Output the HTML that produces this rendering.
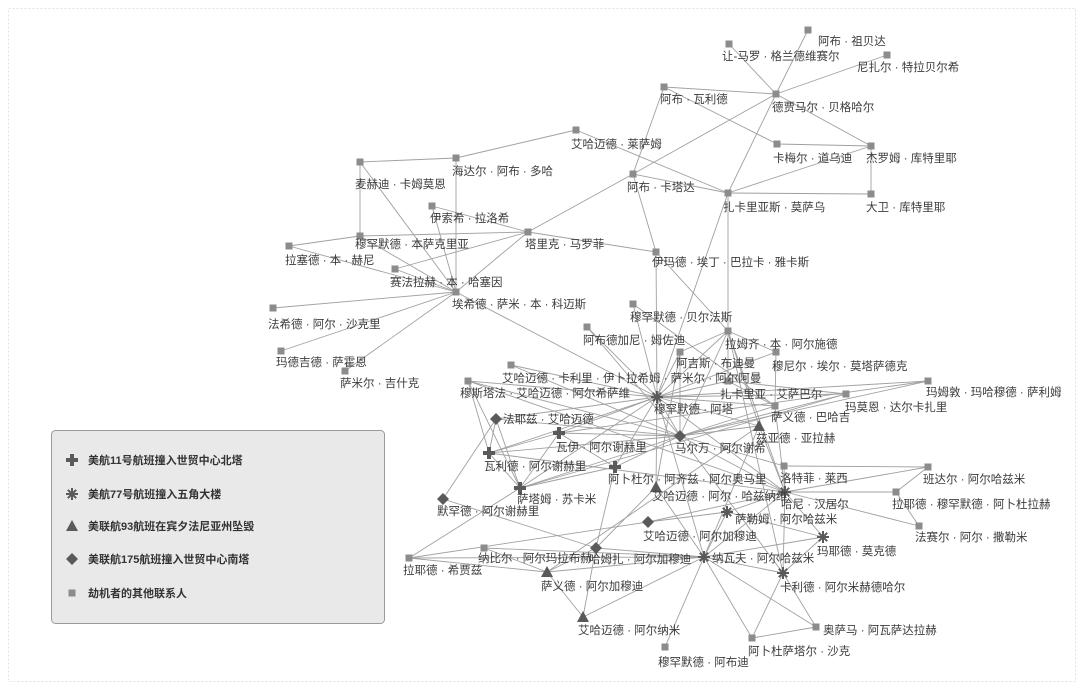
<!DOCTYPE html>
<html><head><meta charset="utf-8"><style>
html,body{margin:0;padding:0;background:#fff;}
svg{display:block;font-family:"Liberation Sans","Noto Sans CJK SC",sans-serif;}
.l line{stroke:#a0a0a0;stroke-width:0.9;}
.t text{font-size:11.5px;fill:#3c3c3c;}
.lg text{font-size:11px;fill:#333;font-weight:bold;}
</style></head><body>
<svg width="1084" height="690" viewBox="0 0 1084 690" xmlns="http://www.w3.org/2000/svg">
<defs>
<rect id="sq" x="-3.5" y="-3.5" width="7" height="7" fill="#8c8c8c"/>
<path id="cr" d="M-2,-6H2V-2H6V2H2V6H-2V2H-6V-2H-2Z" fill="#5a5a5a"/>
<g id="st" stroke="#5a5a5a" stroke-width="2"><line x1="-6" y1="0" x2="6" y2="0"/><line x1="0" y1="-6" x2="0" y2="6"/><line x1="-4.2" y1="-4.2" x2="4.2" y2="4.2"/><line x1="-4.2" y1="4.2" x2="4.2" y2="-4.2"/></g>
<polygon id="tr" points="0,-6 6,5 -6,5" fill="#5a5a5a"/>
<polygon id="di" points="0,-6 6,0 0,6 -6,0" fill="#5a5a5a"/>
</defs>
<rect x="8.5" y="8.5" width="1067" height="673" fill="none" stroke="#e2e2e2" stroke-width="1" stroke-dasharray="2,2"/>
<g class="l">
<line x1="808" y1="30" x2="776" y2="94"/><line x1="729" y1="44" x2="776" y2="94"/><line x1="887" y1="55" x2="776" y2="94"/>
<line x1="664" y1="87" x2="776" y2="94"/><line x1="664" y1="87" x2="777" y2="144"/><line x1="664" y1="87" x2="633" y2="174"/>
<line x1="776" y1="94" x2="871" y2="146"/><line x1="776" y1="94" x2="633" y2="174"/><line x1="776" y1="94" x2="728" y2="193"/>
<line x1="777" y1="144" x2="871" y2="146"/><line x1="871" y1="146" x2="728" y2="193"/><line x1="871" y1="146" x2="871" y2="194"/>
<line x1="728" y1="193" x2="871" y2="194"/><line x1="576" y1="130" x2="456" y2="158"/><line x1="576" y1="130" x2="728" y2="193"/>
<line x1="633" y1="174" x2="728" y2="193"/><line x1="633" y1="174" x2="528" y2="232"/><line x1="633" y1="174" x2="656" y2="252"/>
<line x1="456" y1="158" x2="360" y2="162"/><line x1="456" y1="158" x2="456" y2="292"/><line x1="360" y1="162" x2="360" y2="236"/>
<line x1="360" y1="162" x2="456" y2="292"/><line x1="432" y1="206" x2="528" y2="232"/><line x1="432" y1="206" x2="456" y2="292"/>
<line x1="360" y1="236" x2="528" y2="232"/><line x1="360" y1="236" x2="289" y2="246"/><line x1="289" y1="246" x2="456" y2="292"/>
<line x1="395" y1="269" x2="528" y2="232"/><line x1="395" y1="269" x2="456" y2="292"/><line x1="360" y1="236" x2="456" y2="292"/>
<line x1="528" y1="232" x2="656" y2="252"/><line x1="528" y1="232" x2="456" y2="292"/><line x1="456" y1="292" x2="273" y2="308"/>
<line x1="456" y1="292" x2="281" y2="351"/><line x1="456" y1="292" x2="345" y2="371"/><line x1="456" y1="292" x2="657" y2="397"/>
<line x1="656" y1="252" x2="657" y2="397"/><line x1="656" y1="252" x2="728" y2="331"/><line x1="728" y1="193" x2="728" y2="381"/>
<line x1="728" y1="193" x2="657" y2="397"/><line x1="633" y1="304" x2="657" y2="397"/><line x1="633" y1="304" x2="775" y2="406"/>
<line x1="657" y1="397" x2="587" y2="327"/><line x1="657" y1="397" x2="728" y2="331"/><line x1="657" y1="397" x2="680" y2="352"/>
<line x1="657" y1="397" x2="776" y2="352"/><line x1="657" y1="397" x2="511" y2="365"/><line x1="657" y1="397" x2="468" y2="381"/>
<line x1="657" y1="397" x2="728" y2="381"/><line x1="657" y1="397" x2="846" y2="394"/><line x1="657" y1="397" x2="775" y2="406"/>
<line x1="657" y1="397" x2="496" y2="419"/><line x1="657" y1="397" x2="559" y2="433"/><line x1="657" y1="397" x2="680" y2="436"/>
<line x1="657" y1="397" x2="489" y2="453"/><line x1="657" y1="397" x2="615" y2="467"/><line x1="657" y1="397" x2="520" y2="488"/>
<line x1="657" y1="397" x2="759" y2="426"/><line x1="657" y1="397" x2="785" y2="492"/><line x1="657" y1="397" x2="704" y2="557"/>
<line x1="657" y1="397" x2="928" y2="381"/><line x1="657" y1="397" x2="656" y2="487"/>
<line x1="680" y1="436" x2="468" y2="381"/><line x1="680" y1="436" x2="496" y2="419"/><line x1="680" y1="436" x2="559" y2="433"/>
<line x1="680" y1="436" x2="520" y2="488"/><line x1="680" y1="436" x2="728" y2="331"/><line x1="680" y1="436" x2="846" y2="394"/>
<line x1="680" y1="436" x2="775" y2="406"/><line x1="680" y1="436" x2="928" y2="381"/><line x1="680" y1="436" x2="759" y2="426"/>
<line x1="680" y1="436" x2="785" y2="492"/><line x1="680" y1="436" x2="784" y2="466"/><line x1="680" y1="436" x2="783" y2="573"/>
<line x1="680" y1="436" x2="615" y2="467"/><line x1="680" y1="436" x2="680" y2="352"/><line x1="680" y1="436" x2="489" y2="453"/>
<line x1="785" y1="492" x2="784" y2="466"/><line x1="785" y1="492" x2="928" y2="467"/><line x1="785" y1="492" x2="896" y2="492"/>
<line x1="785" y1="492" x2="919" y2="526"/><line x1="785" y1="492" x2="727" y2="512"/><line x1="785" y1="492" x2="823" y2="537"/>
<line x1="785" y1="492" x2="704" y2="557"/><line x1="785" y1="492" x2="759" y2="426"/><line x1="785" y1="492" x2="468" y2="381"/>
<line x1="785" y1="492" x2="783" y2="573"/><line x1="785" y1="492" x2="648" y2="522"/><line x1="785" y1="492" x2="728" y2="331"/>
<line x1="785" y1="492" x2="775" y2="406"/>
<line x1="704" y1="557" x2="727" y2="512"/><line x1="704" y1="557" x2="783" y2="573"/><line x1="704" y1="557" x2="823" y2="537"/>
<line x1="704" y1="557" x2="596" y2="548"/><line x1="704" y1="557" x2="547" y2="572"/><line x1="704" y1="557" x2="484" y2="548"/>
<line x1="704" y1="557" x2="583" y2="617"/><line x1="704" y1="557" x2="665" y2="647"/><line x1="704" y1="557" x2="752" y2="638"/>
<line x1="704" y1="557" x2="816" y2="627"/><line x1="704" y1="557" x2="656" y2="487"/><line x1="704" y1="557" x2="409" y2="558"/>
<line x1="928" y1="467" x2="896" y2="492"/><line x1="896" y1="492" x2="919" y2="526"/><line x1="783" y1="573" x2="816" y2="627"/>
<line x1="783" y1="573" x2="752" y2="638"/><line x1="816" y1="627" x2="752" y2="638"/><line x1="547" y1="572" x2="583" y2="617"/>
<line x1="547" y1="572" x2="409" y2="558"/><line x1="484" y1="548" x2="547" y2="572"/><line x1="596" y1="548" x2="547" y2="572"/>
<line x1="443" y1="499" x2="496" y2="419"/><line x1="443" y1="499" x2="596" y2="548"/><line x1="409" y1="558" x2="520" y2="488"/>
<line x1="409" y1="558" x2="648" y2="522"/><line x1="583" y1="617" x2="596" y2="548"/><line x1="656" y1="487" x2="596" y2="548"/>
<line x1="559" y1="433" x2="615" y2="467"/><line x1="489" y1="453" x2="496" y2="419"/><line x1="489" y1="453" x2="559" y2="433"/>
<line x1="520" y1="488" x2="496" y2="419"/><line x1="520" y1="488" x2="559" y2="433"/><line x1="520" y1="488" x2="489" y2="453"/>
<line x1="468" y1="381" x2="489" y2="453"/><line x1="468" y1="381" x2="520" y2="488"/><line x1="520" y1="488" x2="615" y2="467"/>
<line x1="615" y1="467" x2="596" y2="548"/><line x1="727" y1="512" x2="648" y2="522"/><line x1="727" y1="512" x2="823" y2="537"/>
<line x1="759" y1="426" x2="547" y2="572"/><line x1="759" y1="426" x2="704" y2="557"/><line x1="728" y1="331" x2="759" y2="426"/>
<line x1="728" y1="331" x2="680" y2="352"/><line x1="728" y1="331" x2="776" y2="352"/><line x1="728" y1="331" x2="783" y2="573"/>
<line x1="776" y1="352" x2="775" y2="406"/><line x1="728" y1="381" x2="775" y2="406"/><line x1="846" y1="394" x2="728" y2="381"/>
<line x1="846" y1="394" x2="520" y2="488"/><line x1="928" y1="381" x2="559" y2="433"/><line x1="784" y1="466" x2="928" y2="467"/>
<line x1="823" y1="537" x2="783" y2="573"/><line x1="680" y1="352" x2="656" y2="487"/><line x1="489" y1="453" x2="785" y2="492"/>
<line x1="511" y1="365" x2="680" y2="436"/><line x1="587" y1="327" x2="680" y2="436"/>
</g>
<g>
<use href="#sq" x="808" y="30"/><use href="#sq" x="729" y="44"/><use href="#sq" x="887" y="55"/><use href="#sq" x="664" y="87"/>
<use href="#sq" x="776" y="94"/><use href="#sq" x="576" y="130"/><use href="#sq" x="777" y="144"/><use href="#sq" x="871" y="146"/>
<use href="#sq" x="456" y="158"/><use href="#sq" x="360" y="162"/><use href="#sq" x="633" y="174"/><use href="#sq" x="728" y="193"/>
<use href="#sq" x="871" y="194"/><use href="#sq" x="432" y="206"/><use href="#sq" x="528" y="232"/><use href="#sq" x="360" y="236"/>
<use href="#sq" x="289" y="246"/><use href="#sq" x="656" y="252"/><use href="#sq" x="395" y="269"/><use href="#sq" x="456" y="292"/>
<use href="#sq" x="273" y="308"/><use href="#sq" x="281" y="351"/><use href="#sq" x="345" y="371"/><use href="#sq" x="633" y="304"/>
<use href="#sq" x="587" y="327"/><use href="#sq" x="728" y="331"/><use href="#sq" x="680" y="352"/><use href="#sq" x="776" y="352"/>
<use href="#sq" x="511" y="365"/><use href="#sq" x="468" y="381"/><use href="#sq" x="728" y="381"/><use href="#sq" x="928" y="381"/>
<use href="#sq" x="846" y="394"/><use href="#sq" x="775" y="406"/><use href="#sq" x="784" y="466"/><use href="#sq" x="928" y="467"/>
<use href="#sq" x="896" y="492"/><use href="#sq" x="919" y="526"/><use href="#sq" x="484" y="548"/><use href="#sq" x="409" y="558"/>
<use href="#sq" x="816" y="627"/><use href="#sq" x="752" y="638"/><use href="#sq" x="665" y="647"/>
<use href="#st" x="657" y="397"/><use href="#st" x="785" y="492"/><use href="#st" x="727" y="512"/><use href="#st" x="823" y="537"/>
<use href="#st" x="704" y="557"/><use href="#st" x="783" y="573"/>
<use href="#di" x="680" y="436"/><use href="#di" x="496" y="419"/><use href="#di" x="443" y="499"/><use href="#di" x="648" y="522"/><use href="#di" x="596" y="548"/>
<use href="#cr" x="559" y="433"/><use href="#cr" x="489" y="453"/><use href="#cr" x="615" y="467"/><use href="#cr" x="520" y="488"/>
<use href="#tr" x="759" y="426"/><use href="#tr" x="656" y="487"/><use href="#tr" x="547" y="572"/><use href="#tr" x="583" y="617"/>
</g>
<g class="t">
<text x="818" y="45">阿布 · 祖贝达</text>
<text x="722" y="60">让-马罗 · 格兰德维赛尔</text>
<text x="857" y="71">尼扎尔 · 特拉贝尔希</text>
<text x="660" y="103">阿布 · 瓦利德</text>
<text x="772" y="111">德贾马尔 · 贝格哈尔</text>
<text x="571" y="148">艾哈迈德 · 莱萨姆</text>
<text x="773" y="162">卡梅尔 · 道乌迪</text>
<text x="866" y="162">杰罗姆 · 库特里耶</text>
<text x="452" y="175">海达尔 · 阿布 · 多哈</text>
<text x="355" y="188">麦赫迪 · 卡姆莫恩</text>
<text x="627" y="191">阿布 · 卡塔达</text>
<text x="723" y="211">扎卡里亚斯 · 莫萨乌</text>
<text x="866" y="211">大卫 · 库特里耶</text>
<text x="430" y="222">伊索希 · 拉洛希</text>
<text x="525" y="248">塔里克 · 马罗菲</text>
<text x="355" y="248">穆罕默德 · 本萨克里亚</text>
<text x="285" y="264">拉塞德 · 本 · 赫尼</text>
<text x="652" y="266">伊玛德 · 埃丁 · 巴拉卡 · 雅卡斯</text>
<text x="390" y="286">赛法拉赫 · 本 · 哈塞因</text>
<text x="452" y="308">埃希德 · 萨米 · 本 · 科迈斯</text>
<text x="268" y="328">法希德 · 阿尔 · 沙克里</text>
<text x="276" y="366">玛德吉德 · 萨霍恩</text>
<text x="340" y="387">萨米尔 · 吉什克</text>
<text x="630" y="321">穆罕默德 · 贝尔法斯</text>
<text x="583" y="344">阿布德加尼 · 姆佐迪</text>
<text x="725" y="348">拉姆齐 · 本 · 阿尔施德</text>
<text x="676" y="367">阿吉斯 · 布迪曼</text>
<text x="772" y="370">穆尼尔 · 埃尔 · 莫塔萨德克</text>
<text x="502" y="382">艾哈迈德 · 卡利里 · 伊卜拉希姆 · 萨米尔 · 阿尔阿曼</text>
<text x="460" y="397">穆斯塔法 · 艾哈迈德 · 阿尔希萨维</text>
<text x="720" y="398">扎卡里亚 · 艾萨巴尔</text>
<text x="654" y="413">穆罕默德 · 阿塔</text>
<text x="926" y="396">玛姆敦 · 玛哈穆德 · 萨利姆</text>
<text x="845" y="411">玛莫恩 · 达尔卡扎里</text>
<text x="771" y="421">萨义德 · 巴哈吉</text>
<text x="503" y="423">法耶兹 · 艾哈迈德</text>
<text x="556" y="451">瓦伊 · 阿尔谢赫里</text>
<text x="756" y="442">兹亚德 · 亚拉赫</text>
<text x="675" y="452">马尔万 · 阿尔谢希</text>
<text x="484" y="470">瓦利德 · 阿尔谢赫里</text>
<text x="608" y="483">阿卜杜尔 · 阿齐兹 · 阿尔奥马里</text>
<text x="780" y="482">洛特菲 · 莱西</text>
<text x="923" y="483">班达尔 · 阿尔哈兹米</text>
<text x="517" y="503">萨塔姆 · 苏卡米</text>
<text x="652" y="500">艾哈迈德 · 阿尔 · 哈兹纳维</text>
<text x="781" y="508">哈尼 · 汉居尔</text>
<text x="892" y="508">拉耶德 · 穆罕默德 · 阿卜杜拉赫</text>
<text x="437" y="515">默罕德 · 阿尔谢赫里</text>
<text x="735" y="523">萨勒姆 · 阿尔哈兹米</text>
<text x="915" y="541">法赛尔 · 阿尔 · 撒勒米</text>
<text x="643" y="540">艾哈迈德 · 阿尔加穆迪</text>
<text x="817" y="555">玛耶德 · 莫克德</text>
<text x="478" y="562">纳比尔 · 阿尔玛拉布赫</text>
<text x="589" y="563">哈姆扎 · 阿尔加穆迪</text>
<text x="712" y="562">纳瓦夫 · 阿尔哈兹米</text>
<text x="403" y="574">拉耶德 · 希贾兹</text>
<text x="541" y="590">萨义德 · 阿尔加穆迪</text>
<text x="780" y="591">卡利德 · 阿尔米赫德哈尔</text>
<text x="578" y="634">艾哈迈德 · 阿尔纳米</text>
<text x="823" y="634">奥萨马 · 阿瓦萨达拉赫</text>
<text x="748" y="655">阿卜杜萨塔尔 · 沙克</text>
<text x="658" y="666">穆罕默德 · 阿布迪</text>
</g>
<rect x="51.5" y="430.5" width="333" height="193" rx="4" fill="#e9e9e9" stroke="#9a9a9a"/>
<g class="lg">
<use href="#cr" x="72" y="460"/><text x="88" y="464">美航11号航班撞入世贸中心北塔</text>
<use href="#st" x="72" y="494"/><text x="88" y="498">美航77号航班撞入五角大楼</text>
<use href="#tr" x="72" y="526"/><text x="88" y="530">美联航93航班在宾夕法尼亚州坠毁</text>
<use href="#di" x="72" y="559"/><text x="88" y="563">美联航175航班撞入世贸中心南塔</text>
<use href="#sq" x="72" y="593"/><text x="88" y="597">劫机者的其他联系人</text>
</g>
</svg>
</body></html>
